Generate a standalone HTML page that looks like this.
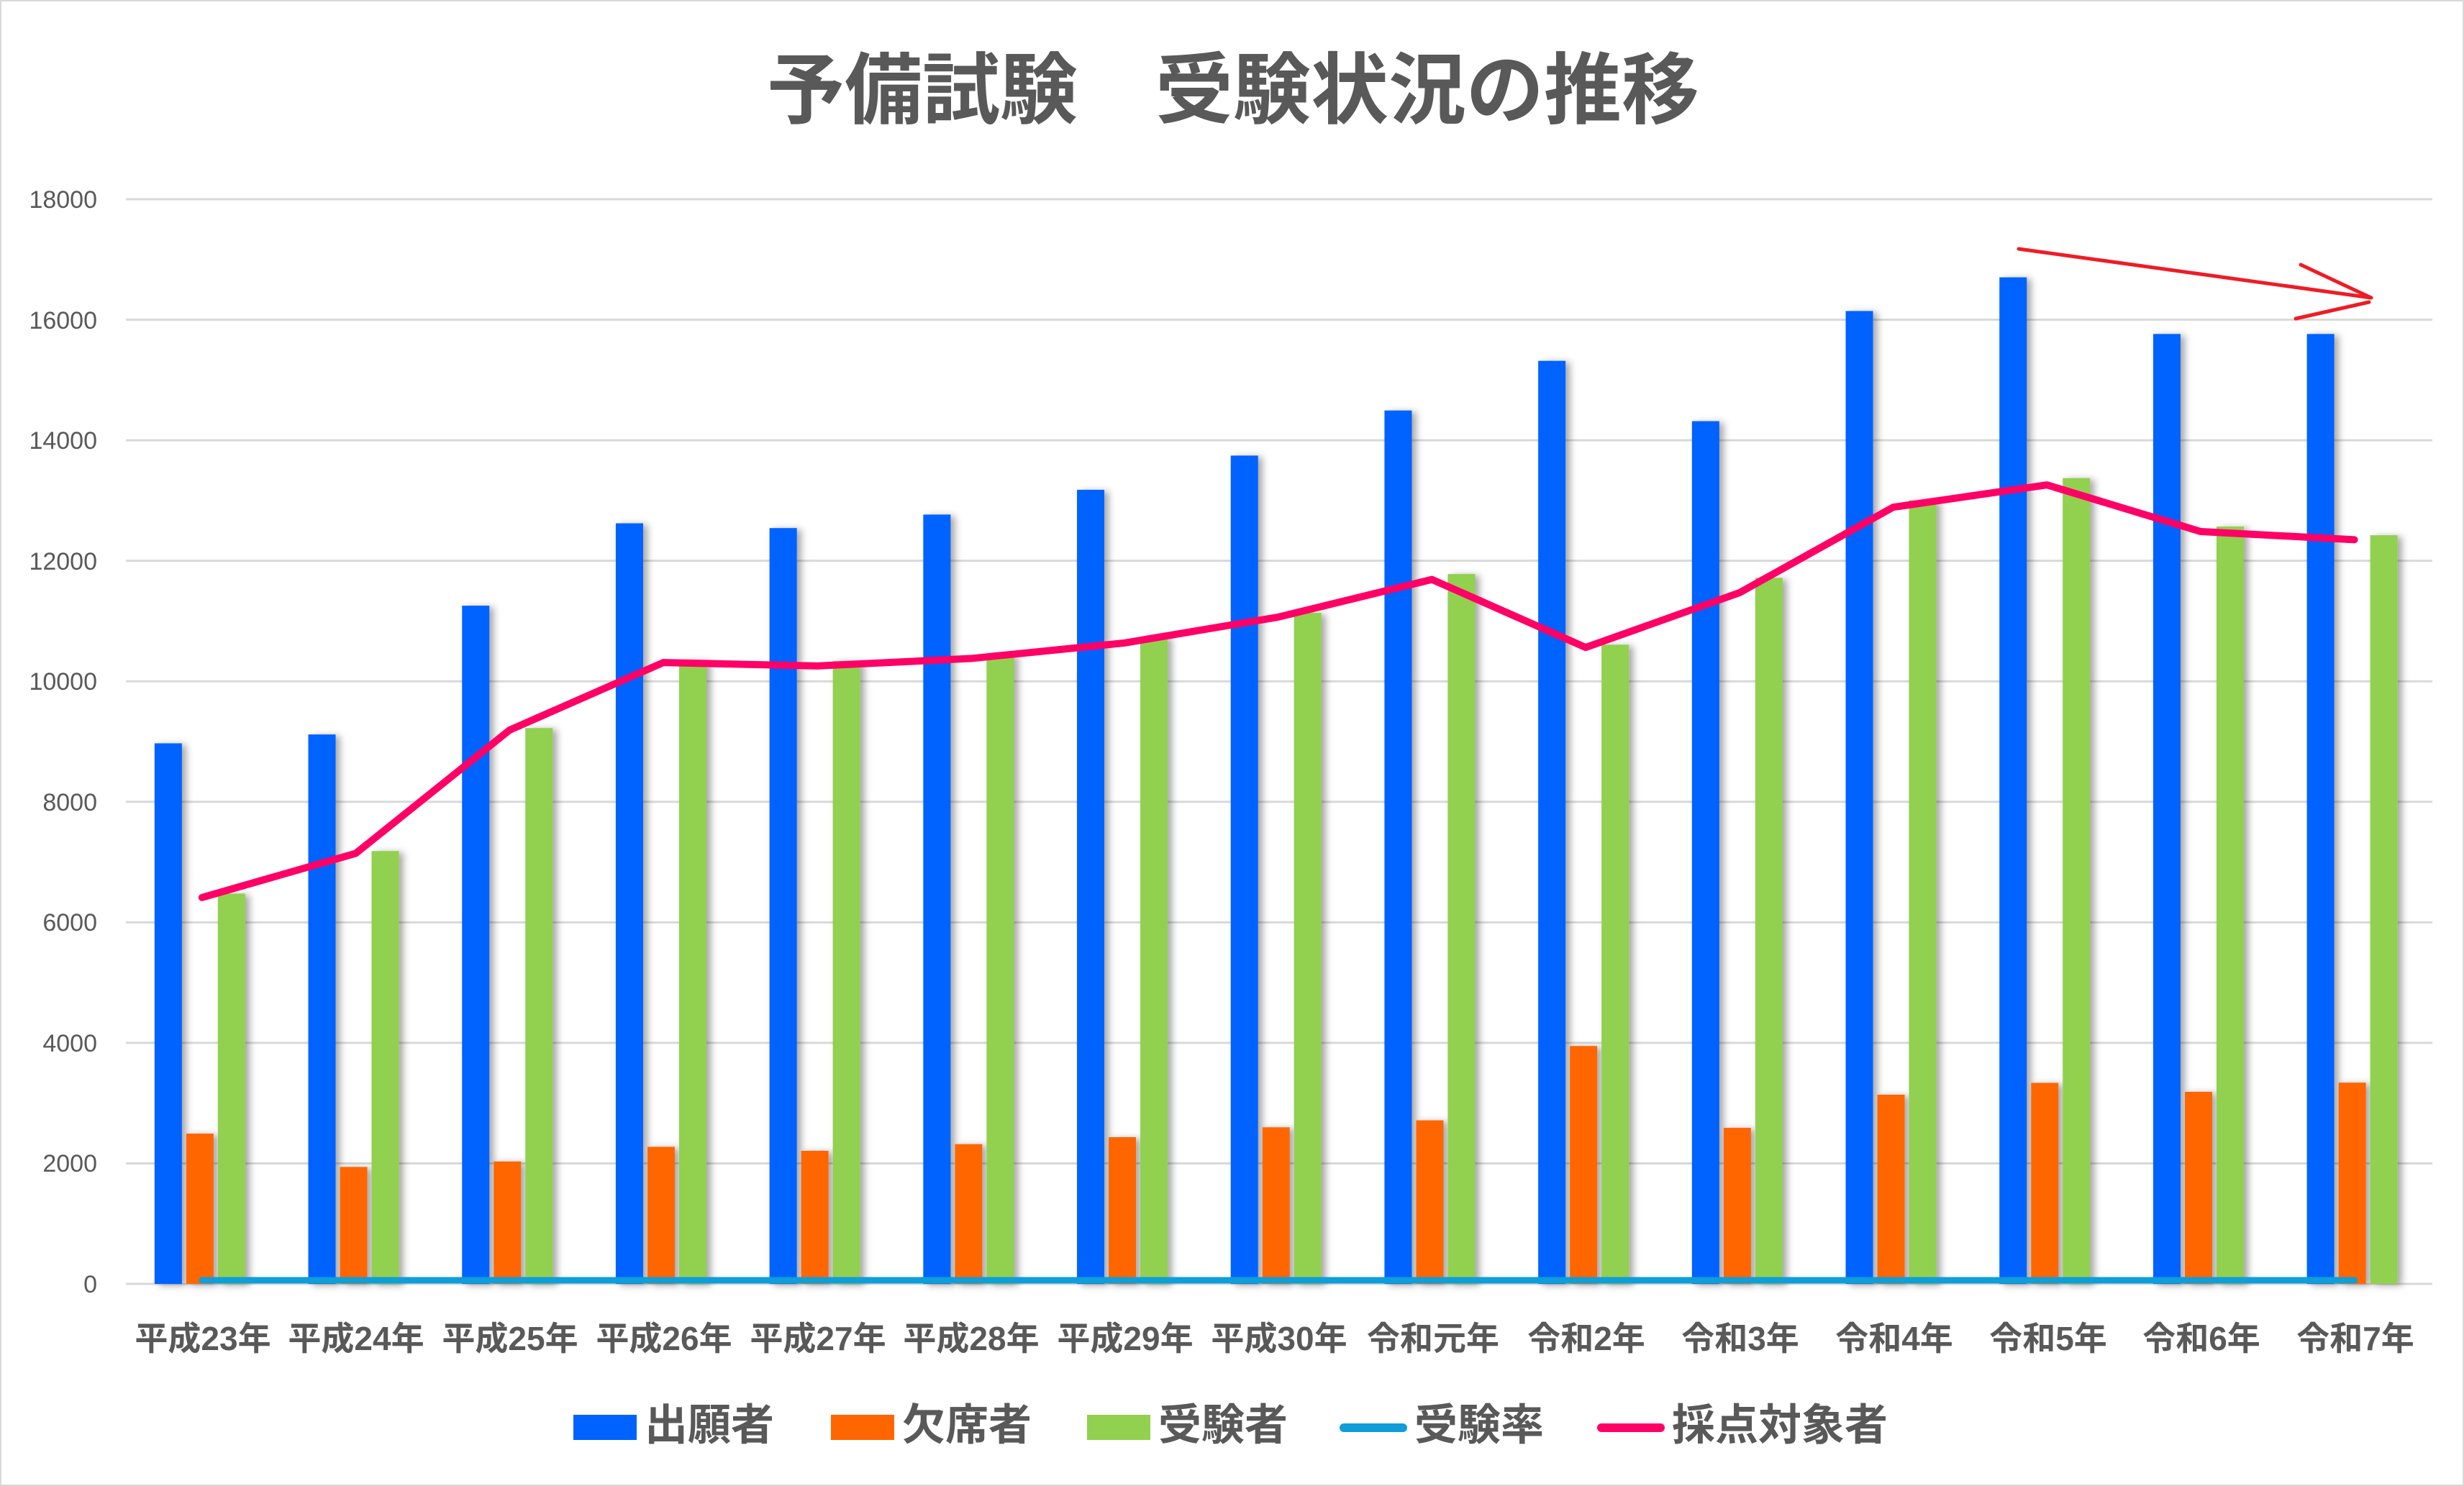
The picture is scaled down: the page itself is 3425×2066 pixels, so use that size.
<!DOCTYPE html>
<html><head><meta charset="utf-8"><style>
html,body{margin:0;padding:0;background:#fff}
svg{display:block}
text{font-family:"Liberation Sans","Noto Sans CJK JP",sans-serif;fill:#595959}
</style></head><body>
<svg id="c" width="3425" height="2066" viewBox="0 0 3425 2066" xmlns="http://www.w3.org/2000/svg">
<defs>
<filter id="sh" x="-50%" y="-10%" width="200%" height="130%"><feDropShadow dx="6" dy="2" stdDeviation="5" flood-color="#000" flood-opacity="0.35"/></filter>
</defs>
<rect x="1" y="1" width="3423" height="2064" fill="#fff" stroke="#d9d9d9" stroke-width="2"/>
<text x="1714" y="163" text-anchor="middle" font-size="108" font-weight="bold">予備試験　受験状況の推移</text>
<g id="grid" stroke="#d9d9d9" stroke-width="3"></g>
<g font-size="34" text-anchor="end">
<text x="135" y="289">18000</text><text x="135" y="457">16000</text><text x="135" y="624">14000</text>
<text x="135" y="792">12000</text><text x="135" y="959">10000</text><text x="135" y="1127">8000</text>
<text x="135" y="1294">6000</text><text x="135" y="1462">4000</text><text x="135" y="1629">2000</text>
<text x="135" y="1797">0</text>
</g>
<g id="bars" filter="url(#sh)"></g>
<g id="lines"></g>
<g font-size="46" font-weight="bold" text-anchor="middle" id="xl">
<text x="282" y="1877">平成23年</text><text x="495" y="1877">平成24年</text><text x="709" y="1877">平成25年</text>
<text x="923" y="1877">平成26年</text><text x="1137" y="1877">平成27年</text><text x="1350" y="1877">平成28年</text>
<text x="1564" y="1877">平成29年</text><text x="1778" y="1877">平成30年</text><text x="1992" y="1877">令和元年</text>
<text x="2205" y="1877">令和2年</text><text x="2419" y="1877">令和3年</text><text x="2633" y="1877">令和4年</text>
<text x="2847" y="1877">令和5年</text><text x="3060" y="1877">令和6年</text><text x="3274" y="1877">令和7年</text>
</g>
<g font-size="60" font-weight="bold">
<rect x="797" y="1967" width="88" height="35" fill="#0062ff"/><text x="896" y="2002">出願者</text>
<rect x="1155" y="1967" width="88" height="35" fill="#ff6600"/><text x="1254" y="2002">欠席者</text>
<rect x="1511" y="1967" width="88" height="35" fill="#92d050"/><text x="1610" y="2002">受験者</text>
<line x1="1868" y1="1985" x2="1950" y2="1985" stroke="#0f9ed8" stroke-width="12" stroke-linecap="round"/><text x="1966" y="2002">受験率</text>
<line x1="2226" y1="1985" x2="2308" y2="1985" stroke="#ff0066" stroke-width="12" stroke-linecap="round"/><text x="2324" y="2002">採点対象者</text>
</g>
<g stroke="#ee1c25" stroke-width="5" fill="none" stroke-linecap="round">
<line x1="2806" y1="346" x2="3296" y2="414"/>
<line x1="3198" y1="368" x2="3296" y2="414"/>
<line x1="3191" y1="443" x2="3293" y2="420"/>
</g>
</svg>
<script>
var NS="http://www.w3.org/2000/svg";
function y(v){return 1785-v*1508/18000;}
function el(p,n,a){var e=document.createElementNS(NS,n);for(var k in a)e.setAttribute(k,a[k]);document.getElementById(p).appendChild(e);return e;}
for(var i=0;i<=9;i++){var yy=y(i*2000);el("grid","line",{x1:175,x2:3381,y1:yy,y2:yy});}
var A=[8971,9118,11255,12622,12543,12767,13178,13746,14494,15318,14317,16145,16704,15764,15764];
var B=[2494,1941,2032,2275,2209,2319,2435,2599,2714,3948,2590,3140,3336,3188,3340];
var C=[6477,7183,9224,10347,10334,10442,10743,11136,11780,10608,11717,13004,13372,12569,12424];
var D=[6412,7145,9190,10311,10255,10378,10636,11066,11690,10562,11470,12889,13259,12485,12350];
var cx=function(i){return 174+106.85+i*213.7;};
for(var i=0;i<15;i++){
 var c=cx(i);
 el("bars","rect",{x:c-66,y:y(A[i]),width:38,height:1785-y(A[i]),fill:"#0062ff"});
 el("bars","rect",{x:c-22,y:y(B[i]),width:38,height:1785-y(B[i]),fill:"#ff6600"});
 el("bars","rect",{x:c+22,y:y(C[i]),width:38,height:1785-y(C[i]),fill:"#92d050"});
}
el("lines","line",{x1:cx(0),x2:cx(14),y1:1780,y2:1780,stroke:"#0f9ed8","stroke-width":9,"stroke-linecap":"round"});
var pts=D.map(function(v,i){return cx(i)+","+y(v);}).join(" ");
el("lines","polyline",{points:pts,fill:"none",stroke:"#ff0066","stroke-width":10,"stroke-linecap":"round","stroke-linejoin":"round"});
</script>
</body></html>
